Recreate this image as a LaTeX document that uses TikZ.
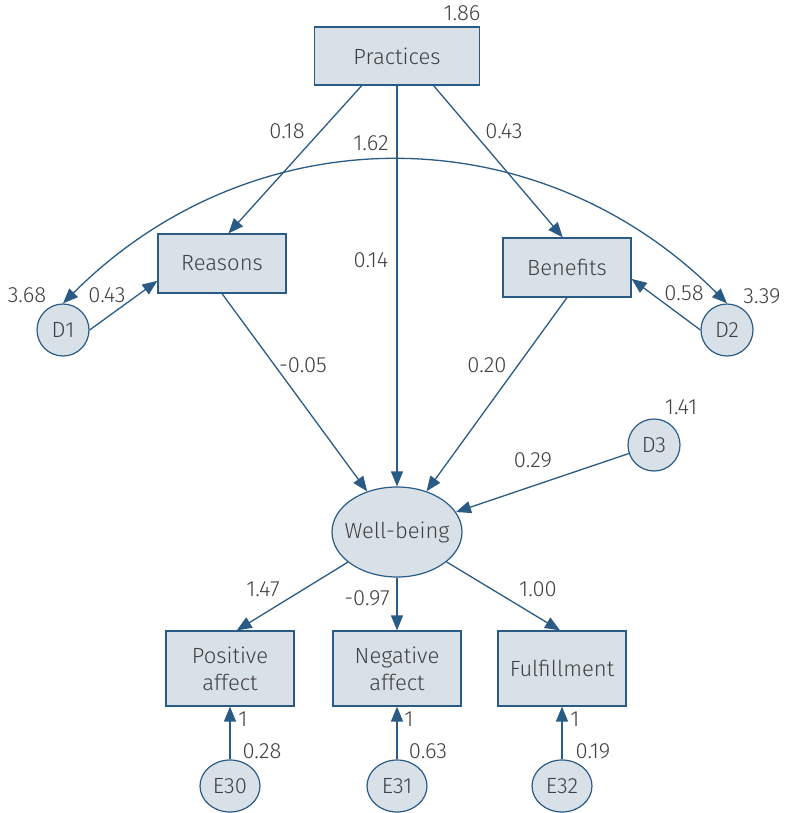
\documentclass[tikz,border=0pt]{standalone}
\usepackage{fontspec}
\setmainfont{Fira Sans Light}
\usetikzlibrary{arrows.meta,shapes.geometric}
\definecolor{bx}{HTML}{D9E1E8}
\definecolor{ln}{HTML}{2A5B85}
\definecolor{tx}{HTML}{404040}
\begin{document}
\begin{tikzpicture}[x=1pt,y=-1pt, font=\fontsize{22}{27}\selectfont, text=tx,
 box/.style={draw=ln, fill=bx, line width=1.2pt, minimum width=128pt, minimum height=59pt, inner sep=0pt, align=center},
 circ/.style={circle, draw=ln, fill=bx, line width=1.2pt, minimum size=52pt, inner sep=0pt},
 ell/.style={ellipse, draw=ln, fill=bx, line width=1.2pt, inner sep=0pt},
 tip/.tip={Triangle[length=15pt,width=12pt]},
 arr/.style={draw=ln, line width=1.3pt, -tip},
 lab/.style={inner sep=0pt}]
\useasboundingbox (0,0) rectangle (784,813);
% nodes
\node[box, minimum width=165pt, minimum height=58pt] (pr) at (397,56) {Practices};
\node[box] (re) at (222,263.5) {Reasons};
\node[box] (be) at (567,267.5) {Benefits};
\node[circ] (d1) at (63,330) {D1};
\node[circ] (d2) at (727,330) {D2};
\node[circ] (d3) at (654,445) {D3};
\node[ell, minimum width=130pt, minimum height=90pt, label={center:Well-being}] (wb) at (397,532) {};
\node[box, minimum height=75pt] (pa) at (230,668.5) {Positive\\affect};
\node[box, minimum height=75pt] (na) at (397,668.5) {Negative\\affect};
\node[box, minimum height=75pt] (fu) at (562,668.5) {Fulfillment};
\node[ell, minimum width=60pt, minimum height=52pt] (e30) at (230,786) {E30};
\node[ell, minimum width=60pt, minimum height=52pt] (e31) at (397,786) {E31};
\node[ell, minimum width=60pt, minimum height=52pt] (e32) at (562,786) {E32};
% connectors
\draw[arr] (pr.220) -- (re.78);
\draw[arr] (pr.south) -- (wb.north);
\draw[arr] (pr.-39) -- (be.98);
\draw[arr] (re.south) -- (wb);
\draw[arr] (be.south) -- (wb);
\draw[arr] (d3) -- (wb);
\draw[arr] (d1.east) -- (re.195);
\draw[arr] (d2.west) -- (be.-10);
\draw[draw=ln, line width=1.3pt, tip-tip] (d1.north) .. controls +(190,-190) and +(-190,-190) .. (d2.north);
\draw[arr] (wb) -- (pa.80);
\draw[arr] (wb.south) -- (na.north);
\draw[arr] (wb) -- (fu.93);
\draw[arr] (e30.north) -- (pa.south);
\draw[arr] (e31.north) -- (na.south);
\draw[arr] (e32.north) -- (fu.south);
% labels
\node[lab] (l1) at (462,13) {1.86};
\node[lab] (l2) at (287,131) {0.18};
\node[lab] (l3) at (504,131) {0.43};
\node[lab] (l4) at (371,143) {1.62};
\node[lab] (l5) at (371,260) {0.14};
\node[lab] (l6) at (27,295) {3.68};
\node[lab] (l7) at (107,295) {0.43};
\node[lab] (l8) at (684,293) {0.58};
\node[lab] (l9) at (762,296) {3.39};
\node[lab] (l10) at (303,365) {-0.05};
\node[lab] (l11) at (487,365) {0.20};
\node[lab] (l12) at (681,407) {1.41};
\node[lab] (l13) at (533,460) {0.29};
\node[lab] (l14) at (263,589) {1.47};
\node[lab] (l15) at (367,598) {-0.97};
\node[lab] (l16) at (538,589) {1.00};
\node[lab] (l17) at (243,719) {1};
\node[lab] (l18) at (409,719) {1};
\node[lab] (l19) at (575,719) {1};
\node[lab] (l20) at (262,751) {0.28};
\node[lab] (l21) at (428,751) {0.63};
\node[lab] (l22) at (593,751) {0.19};
\end{tikzpicture}
\end{document}
